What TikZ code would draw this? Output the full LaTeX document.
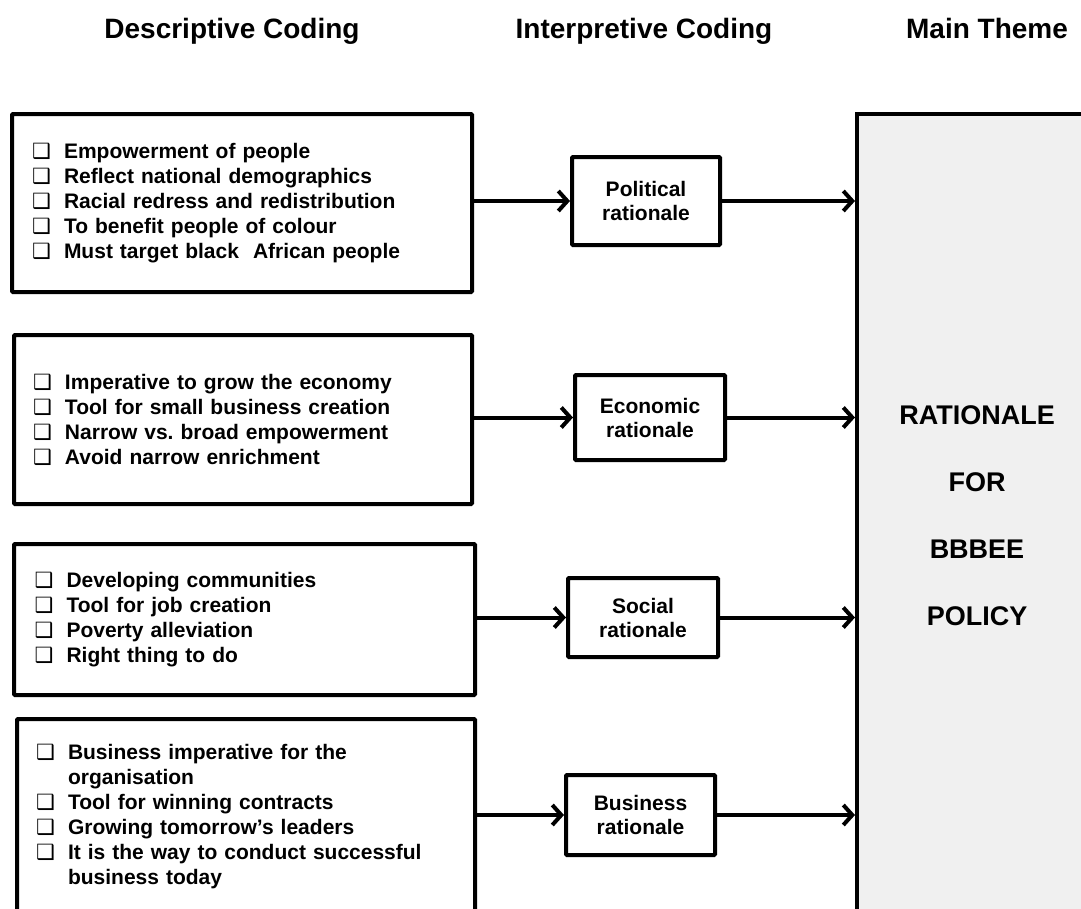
\documentclass[tikz,border=0pt]{standalone}
\usepackage{fontspec}
\setmainfont{Liberation Sans}
\newfontfamily\dejavu{DejaVu Sans}
\usetikzlibrary{arrows.meta}
\definecolor{panelgray}{RGB}{240,240,240}
\newcommand\qb{\makebox[32pt][l]{\dejavu\bfseries\fontsize{21}{21}\selectfont ❑}}
\newcommand\qind{\hspace*{32pt}}
\begin{document}
\begin{tikzpicture}[x=1pt,y=-1pt,
  hdr/.style={font=\bfseries\fontsize{28}{30}\selectfont, inner sep=0pt, anchor=base},
  descbox/.style={draw, line width=4pt, rounded corners=1pt, anchor=north west,
    align=left, text width=420pt, inner xsep=0pt, inner ysep=0pt,
    font=\bfseries\fontsize{21}{25}\selectfont},
  midbox/.style={draw, line width=4pt, rounded corners=1pt, align=center,
    inner sep=0pt, font=\bfseries\fontsize{21}{24}\selectfont},
  mainbox/.style={draw, line width=4pt, fill=panelgray, anchor=north west, inner sep=0pt,
    align=center, font=\bfseries\fontsize{27}{67}\selectfont},
  arr/.style={line width=4pt, -{Straight Barb[length=9pt,width=20pt]}}
]
\useasboundingbox (0,0) rectangle (1081,908);
\clip (0,0) rectangle (1081,908);

% headers
\node[hdr] (h1) at (232,38) {Descriptive Coding};
\node[hdr] (h2) at (644,38) {Interpretive Coding};
\node[hdr] (h3) at (987,38) {Main Theme};

% main theme panel
\node[mainbox, minimum width=240pt, minimum height=804pt] (m) at (855,112)
  {RATIONALE\\FOR\\BBBEE\\POLICY};

% descriptive boxes
\node[descbox, minimum width=460pt, minimum height=178pt] (d1) at (10,112)
  {\qb Empowerment of people\\
   \qb Reflect national demographics\\
   \qb Racial redress and redistribution\\
   \qb To benefit people of colour\\
   \qb Must target black\ \ African people};
\node[descbox, minimum width=458pt, minimum height=169pt] (d2) at (12,333)
  {\qb Imperative to grow the economy\\
   \qb Tool for small business creation\\
   \qb Narrow vs.\ broad empowerment\\
   \qb Avoid narrow enrichment};
\node[descbox, minimum width=461pt, minimum height=151pt] (d3) at (12,542)
  {\qb Developing communities\\
   \qb Tool for job creation\\
   \qb Poverty alleviation\\
   \qb Right thing to do};
\node[descbox, minimum width=458pt, minimum height=196pt] (d4) at (15,717)
  {\qb Business imperative for the\\
   \qind organisation\\
   \qb Tool for winning contracts\\
   \qb Growing tomorrow’s leaders\\
   \qb It is the way to conduct successful\\
   \qind business today};

% interpretive boxes
\node[midbox, minimum width=148pt, minimum height=88pt] (p) at (646,201) {Political\\rationale};
\node[midbox, minimum width=150pt, minimum height=85pt] (e) at (650,417.5) {Economic\\rationale};
\node[midbox, minimum width=150pt, minimum height=79pt] (s) at (643,617.5) {Social\\rationale};
\node[midbox, minimum width=149pt, minimum height=80pt] (b) at (640.5,815) {Business\\rationale};

% connectors
\foreach \l/\r in {d1/p, d2/e, d3/s, d4/b}{
  \draw[arr] (\l.east |- \r.west) -- (\r.west);
  \draw[arr] (\r.east) -- (\r.east -| m.west);
}
\end{tikzpicture}
\end{document}
